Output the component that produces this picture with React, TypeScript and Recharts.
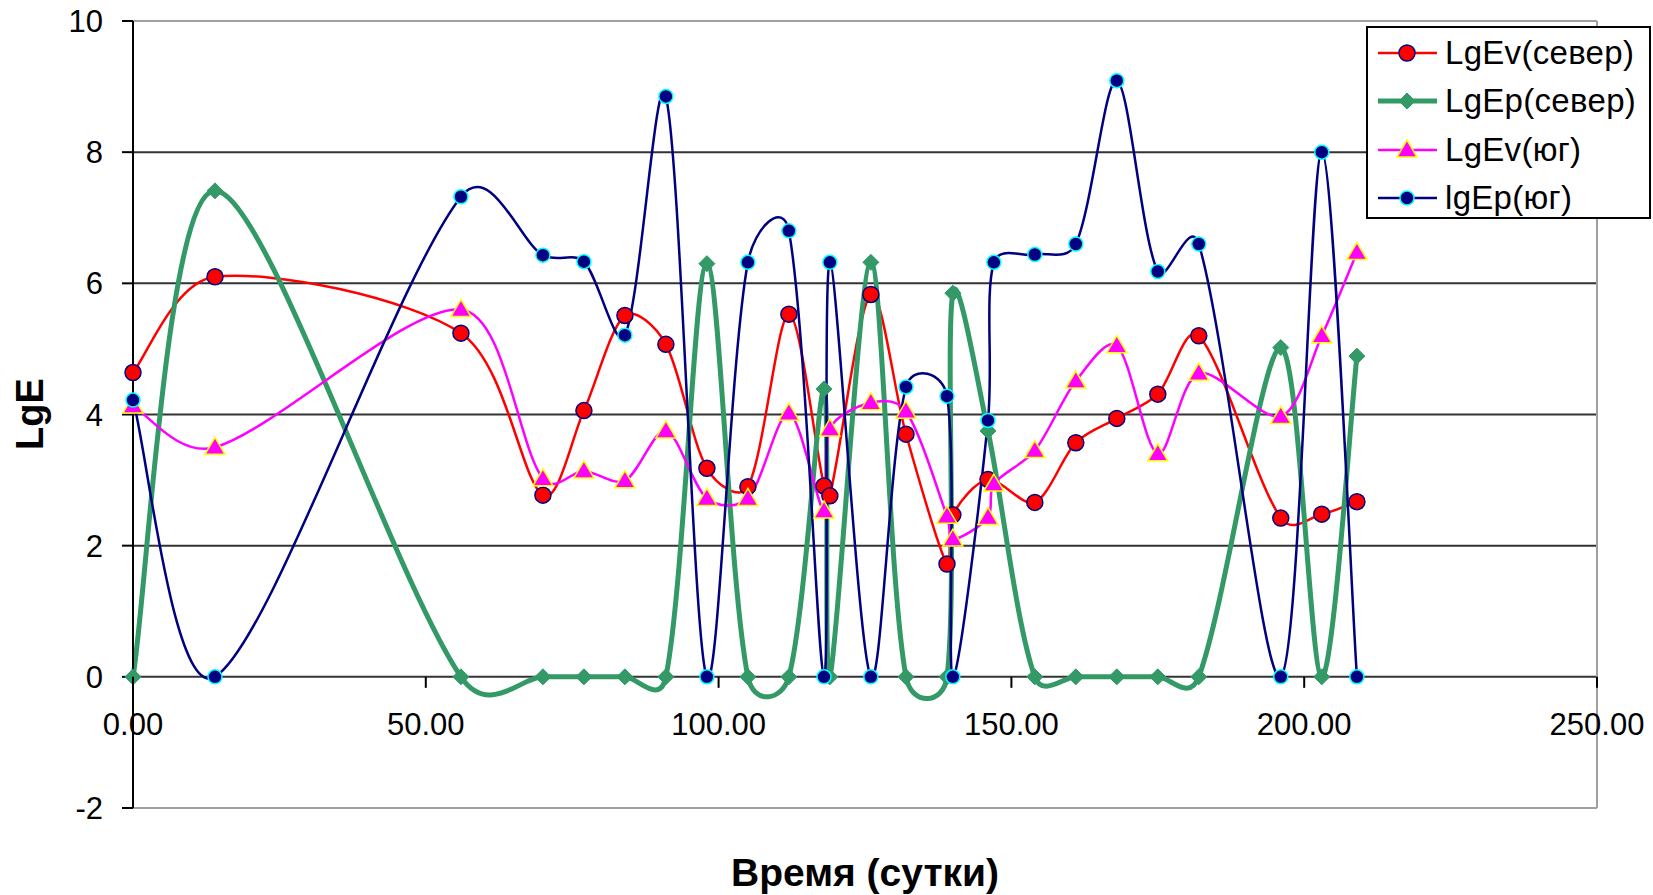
import React from 'react';
import { LineChart, Line, XAxis, YAxis, CartesianGrid, ReferenceLine, Legend } from 'recharts';

// Дни наблюдений
const days = [0, 14, 56, 70, 77, 84, 91, 98, 105, 112, 118, 119, 126, 132, 139, 140, 146, 147, 154, 161, 168, 175, 182, 196, 203, 209];

// Значения рядов (null - точки нет)
const lgEvNorth = [4.64, 6.1, 5.24, 2.77, 4.06, 5.51, 5.07, 3.18, 2.9, 5.53, 2.91, 2.76, 5.83, 3.7, 1.72, 2.47, 3.01, null, 2.66, 3.57, 3.94, 4.31, 5.2, 2.42, 2.48, 2.67];
const lgEpNorth = [0, 7.41, 0, 0, 0, 0, 0, 6.3, 0, 0, 4.39, 0, 6.32, 0, 0, 5.85, 3.75, null, 0, 0, 0, 0, 0, 5.02, 0, 4.89];
const lgEvSouth = [4.13, 3.5, 5.6, 3.02, 3.14, 2.99, 3.75, 2.72, 2.72, 4.02, 2.53, 3.78, 4.18, 4.05, 2.45, 2.1, 2.43, 2.94, 3.45, 4.51, 5.05, 3.4, 4.63, 3.97, 5.2, 6.47];
const lgEpSouth = [4.22, 0, 7.32, 6.43, 6.33, 5.21, 8.85, 0, 6.32, 6.8, 0, 6.32, 0, 4.42, 4.28, 0, 3.91, 6.32, 6.44, 6.6, 9.09, 6.18, 6.6, 0, 8.0, 0];

const xTicks = [0, 50, 100, 150, 200, 250];
const yTicks = [-2, 0, 2, 4, 6, 8, 10];
const seriesNames = ['LgEv(север)', 'LgEp(север)', 'LgEv(юг)', 'lgEp(юг)'];

const FONT = '"Liberation Sans", Arial, sans-serif';
const W = 1653;
const H = 895;
const M_TOP = 21;
const M_RIGHT = 56;
const Y_AXIS_W = 133;
const X_AXIS_H = 87;
const PLOT_H = H - M_TOP - X_AXIS_H;
const ZERO_Y = M_TOP + (PLOT_H * 10) / 12;

const RED = '#FF0000';
const GREEN = '#339966';
const MAGENTA = '#FF00FF';
const NAVY = '#000080';

const makeSeries = (vals: (number | null)[]) =>
  days.map((d, i) => ({ day: d, v: vals[i] })).filter((p) => p.v !== null);

// сглаживание как в Excel (безье с весами по длине отрезков)
function excelSmooth(context: any) {
  let xs: number[] = [];
  let ys: number[] = [];
  return {
    areaStart() {},
    areaEnd() {},
    lineStart() {
      xs = [];
      ys = [];
    },
    point(x: number, y: number) {
      xs.push(+x);
      ys.push(+y);
    },
    lineEnd() {
      const n = xs.length;
      if (!n) return;
      context.moveTo(xs[0], ys[0]);
      if (n === 1) return;
      const dist = (i: number, j: number) => Math.hypot(xs[j] - xs[i], ys[j] - ys[i]);
      const inX: number[] = [], inY: number[] = [], outX: number[] = [], outY: number[] = [];
      for (let i = 0; i < n; i++) {
        const a = Math.max(0, i - 1);
        const b = Math.min(n - 1, i + 1);
        const tx = xs[b] - xs[a];
        const ty = ys[b] - ys[a];
        let fIn = 1 / 6;
        let fOut = 1 / 6;
        if (i > 0 && i < n - 1) {
          const s0 = Math.sqrt(dist(i - 1, i));
          const s1 = Math.sqrt(dist(i, i + 1));
          const s = s0 + s1 || 1;
          fIn = (s0 / s) * 0.3;
          fOut = (s1 / s) * 0.3;
        }
        inX[i] = xs[i] - tx * fIn;
        inY[i] = ys[i] - ty * fIn;
        outX[i] = xs[i] + tx * fOut;
        outY[i] = ys[i] + ty * fOut;
      }
      for (let i = 0; i < n - 1; i++) {
        context.bezierCurveTo(outX[i], outY[i], inX[i + 1], inY[i + 1], xs[i + 1], ys[i + 1]);
      }
    },
  };
}

const RedMark = ({ cx, cy }: any) => <circle cx={cx} cy={cy} r={8} fill={RED} stroke={NAVY} strokeWidth={1.5} />;
const GreenMark = ({ cx, cy }: any) => (
  <polygon points={`${cx},${cy - 8} ${cx + 8},${cy} ${cx},${cy + 8} ${cx - 8},${cy}`} fill={GREEN} stroke={GREEN} strokeWidth={1} />
);
const PinkMark = ({ cx, cy }: any) => (
  <polygon points={`${cx},${cy - 10} ${cx + 10},${cy + 7} ${cx - 10},${cy + 7}`} fill={MAGENTA} stroke="#FFFF00" strokeWidth={1.5} />
);
const NavyMark = ({ cx, cy }: any) => <circle cx={cx} cy={cy} r={7} fill={NAVY} stroke="#00FFFF" strokeWidth={1.5} />;

const dotOf = (Mark: any) => (p: any) => {
  if (p.cx == null || p.cy == null) return <g key={`e${p.index}`} />;
  return <Mark key={`m${p.index}`} cx={p.cx} cy={p.cy} />;
};

const series = [
  { name: seriesNames[0], data: makeSeries(lgEvNorth), color: RED, width: 2.5, Mark: RedMark },
  { name: seriesNames[1], data: makeSeries(lgEpNorth), color: GREEN, width: 5, Mark: GreenMark },
  { name: seriesNames[2], data: makeSeries(lgEvSouth), color: MAGENTA, width: 2.5, Mark: PinkMark },
  { name: seriesNames[3], data: makeSeries(lgEpSouth), color: NAVY, width: 2.5, Mark: NavyMark },
];

const XTick = (props: any) => {
  const { x, payload } = props;
  return (
    <g>
      <line x1={x} x2={x} y1={ZERO_Y} y2={ZERO_Y + 11} stroke="#000" strokeWidth={2} />
      <text x={x} y={ZERO_Y + 58} textAnchor="middle" fontSize={31} fill="#000" fontFamily={FONT}>
        {Number(payload.value).toFixed(2)}
      </text>
    </g>
  );
};

const LegendBox = () => (
  <div
    style={{
      position: 'relative',
      width: 285,
      height: 193,
      boxSizing: 'border-box',
      border: '2px solid #000',
      background: '#fff',
      fontFamily: FONT,
      fontSize: 33,
      letterSpacing: 0.3,
      color: '#000',
    }}
  >
    {series.map((s, i) => (
      <div
        key={s.name}
        style={{ position: 'absolute', left: 0, top: 27 + i * 48.4 - 24 - 2, height: 48, display: 'flex', alignItems: 'center' }}
      >
        <svg width={77} height={48} style={{ display: 'block' }}>
          <line x1={10} x2={69} y1={24} y2={24} stroke={s.color} strokeWidth={s.width} />
          <s.Mark cx={39} cy={24} />
        </svg>
        <span style={{ whiteSpace: 'nowrap', lineHeight: '48px' }}>{s.name}</span>
      </div>
    ))}
  </div>
);

export default function App() {
  return (
    <div style={{ position: 'absolute', left: 0, top: 0, background: '#fff' }}>
      <LineChart width={W} height={H} margin={{ top: M_TOP, right: M_RIGHT, bottom: 0, left: 0 }}>
        <CartesianGrid horizontal vertical={false} horizontalValues={[0, 2, 4, 6, 8]} stroke="#333" strokeWidth={2} />
        <XAxis
          type="number"
          dataKey="day"
          domain={[0, 250]}
          ticks={xTicks}
          height={X_AXIS_H}
          axisLine={false}
          tickLine={false}
          tick={<XTick />}
          interval={0}
          label={{
            content: () => (
              <text x={865} y={886} textAnchor="middle" fontSize={39} fontWeight="bold" fill="#000" fontFamily={FONT}>
                Время (сутки)
              </text>
            ),
          }}
        />
        <YAxis
          type="number"
          domain={[-2, 10]}
          ticks={yTicks}
          width={Y_AXIS_W}
          interval={0}
          axisLine={{ stroke: '#000', strokeWidth: 2 }}
          tickLine={{ stroke: '#000', strokeWidth: 2 }}
          tickSize={11}
          tickMargin={19}
          tick={{ fontSize: 31, fill: '#000', fontFamily: FONT }}
          label={{
            content: () => (
              <text
                x={30}
                y={414}
                transform="rotate(-90, 30, 414)"
                textAnchor="middle"
                dominantBaseline="central"
                fontSize={38}
                fontWeight="bold"
                fill="#000"
                fontFamily={FONT}
              >
                LgE
              </text>
            ),
          }}
        />
        <ReferenceLine y={10} stroke="#a0a0a0" strokeWidth={2} />
        <ReferenceLine y={-2} stroke="#a0a0a0" strokeWidth={2} />
        <ReferenceLine x={250} stroke="#a0a0a0" strokeWidth={2} />
        {series.map((s) => (
          <Line
            key={`l-${s.name}`}
            data={s.data}
            dataKey="v"
            name={s.name}
            type={excelSmooth as any}
            stroke={s.color}
            strokeWidth={s.width}
            dot={false}
            activeDot={false}
            isAnimationActive={false}
            legendType="none"
          />
        ))}
        {series.map((s) => (
          <Line
            key={`d-${s.name}`}
            data={s.data}
            dataKey="v"
            name={`${s.name} `}
            stroke="none"
            dot={dotOf(s.Mark)}
            activeDot={false}
            isAnimationActive={false}
            legendType="none"
          />
        ))}
        <Legend
          layout="vertical"
          align="center"
          verticalAlign="middle"
          wrapperStyle={{ left: 1366, top: 26, width: 285, height: 193, margin: 0 }}
          content={() => <LegendBox />}
        />
      </LineChart>
    </div>
  );
}
